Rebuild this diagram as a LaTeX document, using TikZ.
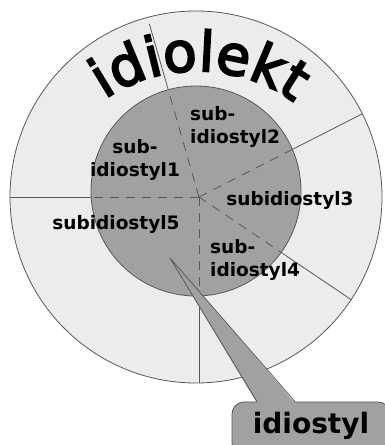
\documentclass[tikz,border=0pt]{standalone}
\usepackage{fontspec}
\setmainfont{DejaVu Sans}
\newfontfamily\titlefont[FakeBold=3.5]{DejaVu Sans}
\usetikzlibrary{calc,decorations.text}
\definecolor{ringgray}{gray}{0.925}
\definecolor{coregray}{gray}{0.63}
\definecolor{linegray}{gray}{0.35}

\begin{document}
\begin{tikzpicture}[
  x=1pt,y=1pt,
  ring/.style={circle,draw=linegray,line width=.8pt,fill=ringgray,inner sep=0pt},
  core/.style={circle,draw=linegray,line width=.8pt,fill=coregray,inner sep=0pt},
  spoke/.style={draw=linegray,line width=.8pt},
  inner/.style={spoke,dash pattern=on 9pt off 7pt},
  lbl/.style={font=\bfseries\fontsize{18.5}{23}\selectfont,inner sep=0pt},
  callout/.style={fill=coregray,draw=linegray,line width=.8pt,rounded corners=12pt}]
\useasboundingbox[fill=white] (0,0) rectangle (385,445);
% rings
\node[ring,minimum size=372pt] (outer) at (196,248) {};
\coordinate (hub) at (199,248);
\foreach \a/\l in {106/180,27/183,-34/184,-90/186,180/189}
  \draw[spoke] (hub) -- ++(\a:\l);
\node[core,minimum size=210pt] (core) at (196,254) {};
\begin{scope}
  \clip (core.center) circle (105);
  \foreach \a in {106,27,-34,-90,180}
    \draw[inner] (hub) -- ++(\a:120);
\end{scope}
% title along the ring
\path[decorate,decoration={text along path,text align=center,
  text format delimiters={|}{|},
  text={|\titlefont\fontsize{55}{55}\selectfont|idiolekt}}]
  (197,209) ++(128:165) arc[start angle=128,end angle=50,radius=165];
% parts
\node[lbl,align=center] (sub1) at (135,285) {sub-\\idiostyl1};
\node[lbl,align=left,anchor=west] (sub2) at (190,318) {sub-\\idiostyl2};
\node[lbl] (sub3) at (290,245) {subidiostyl3};
\node[lbl,align=left,anchor=west] (sub4) at (210,185) {sub-\\idiostyl4};
\node[lbl] (sub5) at (116,221) {subidiostyl5};
% callout
\node[callout,font=\bfseries\fontsize{28}{28}\selectfont,inner sep=0pt,
  text height=31pt,text depth=22pt,minimum width=158pt,anchor=base]
  (idiostyl) at (311,12) {idiostyl};
\coordinate (tip) at (170,187);
\fill[coregray] (tip) -- ($(idiostyl.north)+(-54,-1.5)$)
  -- ($(idiostyl.north)+(-16,-1.5)$) -- cycle;
\draw[spoke] ($(idiostyl.north)+(-54,0)$) -- (tip)
  -- ($(idiostyl.north)+(-16,0)$);
\end{tikzpicture}
\end{document}
